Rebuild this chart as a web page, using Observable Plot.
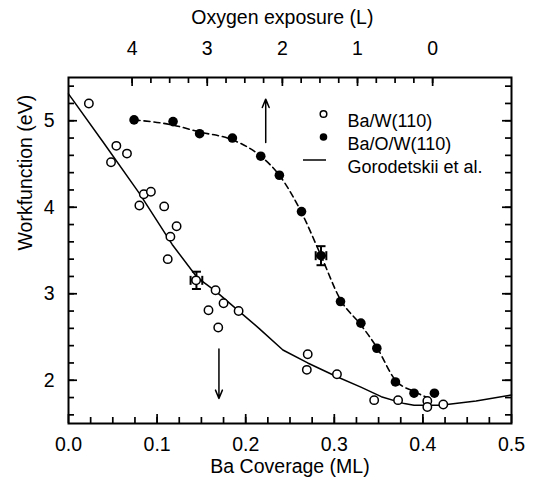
<!DOCTYPE html>
<html>
<head>
<meta charset="utf-8">
<script src="https://cdn.jsdelivr.net/npm/d3@7"></script>
<script src="https://cdn.jsdelivr.net/npm/@observablehq/plot@0.6"></script>
<style>
  html, body { margin: 0; padding: 0; background: white; }
  #chart svg { display: block; }
</style>
</head>
<body>
<div id="chart"></div>
<script>
// ---- data ----
const coverageTicks = [0, 0.1, 0.2, 0.3, 0.4, 0.5];
const workTicks = [2, 3, 4, 5];
const exposureTicks = [4, 3, 2, 1, 0];

// Ba/W(110) – open circles
const openX = [0.023, 0.048, 0.054, 0.066, 0.080, 0.085, 0.093, 0.108, 0.112, 0.115, 0.122, 0.144, 0.158, 0.166, 0.169, 0.175, 0.192, 0.269, 0.270, 0.303, 0.345, 0.372, 0.405, 0.405, 0.423];
const openY = [5.20, 4.52, 4.71, 4.62, 4.02, 4.15, 4.18, 4.01, 3.40, 3.66, 3.78, 3.155, 2.81, 3.04, 2.61, 2.89, 2.80, 2.12, 2.30, 2.07, 1.77, 1.77, 1.76, 1.69, 1.72];

// Ba/O/W(110) – filled circles
const filledX = [0.074, 0.118, 0.148, 0.185, 0.217, 0.238, 0.263, 0.285, 0.307, 0.330, 0.348, 0.369, 0.390, 0.413];
const filledY = [5.01, 4.99, 4.85, 4.80, 4.59, 4.37, 3.95, 3.44, 2.91, 2.66, 2.37, 1.98, 1.85, 1.85];

// Gorodetskii et al. – solid line
const goroX = [0, 0.04, 0.08, 0.117, 0.145, 0.166, 0.19, 0.215, 0.242, 0.27, 0.303, 0.33, 0.353, 0.379, 0.39, 0.42, 0.46, 0.5];
const goroY = [5.31, 4.74, 4.16, 3.57, 3.19, 3.03, 2.82, 2.60, 2.35, 2.20, 2.04, 1.92, 1.81, 1.73, 1.71, 1.71, 1.76, 1.83];

// dashed guide through the Ba/O/W points
const dashX = [0.074, 0.118, 0.148, 0.185, 0.217, 0.238, 0.262, 0.285, 0.307, 0.330, 0.348, 0.369, 0.390, 0.405];
const dashY = [5.01, 4.95, 4.87, 4.78, 4.59, 4.37, 3.96, 3.44, 2.93, 2.64, 2.38, 2.00, 1.87, 1.80];

// error bars
const errX = [0.1444, 0.285];
const errY = [3.155, 3.44];
const errDY = [0.10, 0.11];
const errDX = [0.0066, 0.006];

// arrows
const arrowX = [0.2226, 0.1698];
const arrowFrom = [4.75, 2.36];
const arrowTo = [5.25, 1.79];

// top axis: oxygen exposure vs coverage
const exposureZeroCoverage = 0.411;
const coveragePerL = 0.0848;

const legendLabels = ["Ba/W(110)", "Ba/O/W(110)", "Gorodetskii et al."];

// ---- helpers ----
const W = 536, H = 487, ML = 68, MR = 25, MT = 77, MB = 64;
const frameW = W - ML - MR, frameH = H - MT - MB;

const toCov = L => exposureZeroCoverage - coveragePerL * L;
const seg = (dx, dy) => ({ draw(ctx) { ctx.moveTo(-dx, -dy); ctx.lineTo(dx, dy); } });
const capH = seg(4.5, 0), capV = seg(0, 4.5), legendLine = seg(11.5, 0);

const xMinor = d3.range(0.025, 0.49, 0.025);
const yMinor = d3.range(1.6, 5.41, 0.2);
const expMinor = d3.range(0, 4.01, 0.25);

const errLo = errY.map((v, i) => v - errDY[i]);
const errHi = errY.map((v, i) => v + errDY[i]);
const errL = errX.map((v, i) => v - errDX[i]);
const errR = errX.map((v, i) => v + errDX[i]);

const font = "'Liberation Sans', Arial, Helvetica, sans-serif";
const tw = 1.7;
const tc = "black";

// inward tick marks
const ticksBottom = (vals, len) => Plot.tickX(vals, {x: vals, insetTop: frameH - len, stroke: tc, strokeWidth: tw});
const ticksTop = (vals, len) => Plot.tickX(vals, {x: vals, insetBottom: frameH - len, stroke: tc, strokeWidth: tw});
const ticksLeft = (vals, len) => Plot.tickY(vals, {y: vals, insetRight: frameW - len, stroke: tc, strokeWidth: tw});
const ticksRight = (vals, len) => Plot.tickY(vals, {y: vals, insetLeft: frameW - len, stroke: tc, strokeWidth: tw});

const marks = [
  Plot.line(goroX, {x: goroX, y: goroY, stroke: "black", strokeWidth: 1.5}),
  Plot.line(dashX, {x: dashX, y: dashY, stroke: "black", strokeWidth: 1.6, strokeDasharray: "6,4", curve: "monotone-x"}),
  Plot.arrow(arrowX, {x: arrowX, y1: arrowFrom, y2: arrowTo, stroke: "black", strokeWidth: 1.5, headLength: 9, headAngle: 45}),
  Plot.link(errX, {x: errX, y1: errLo, y2: errHi, stroke: "black", strokeWidth: 2}),
  Plot.link(errX, {y: errY, x1: errL, x2: errR, stroke: "black", strokeWidth: 2}),
  Plot.dot(errX, {x: errX, y: errLo, symbol: capH, r: 4.5, stroke: "black", fill: "none", strokeWidth: 2}),
  Plot.dot(errX, {x: errX, y: errHi, symbol: capH, r: 4.5, stroke: "black", fill: "none", strokeWidth: 2}),
  Plot.dot(errX, {x: errL, y: errY, symbol: capV, r: 4.5, stroke: "black", fill: "none", strokeWidth: 2}),
  Plot.dot(errX, {x: errR, y: errY, symbol: capV, r: 4.5, stroke: "black", fill: "none", strokeWidth: 2}),
  Plot.dot(openX, {x: openX, y: openY, r: 4.2, stroke: "black", strokeWidth: 1.5, fill: "white"}),
  Plot.dot(filledX, {x: filledX, y: filledY, r: 4.8, fill: "black", stroke: "none"}),

  ticksBottom(xMinor, 6),
  ticksBottom(coverageTicks, 9),
  Plot.axisX(coverageTicks, {anchor: "bottom", tickSize: 0, tickPadding: 14, tickFormat: d3.format(".1f"), label: null}),
  ticksTop(expMinor.map(toCov), 6),
  ticksTop(exposureTicks.map(toCov), 9),
  Plot.axisX(exposureTicks.map(toCov), {anchor: "top", tickSize: 0, tickPadding: 23, label: null,
    tickFormat: c => String(Math.round((exposureZeroCoverage - c) / coveragePerL))}),
  ticksLeft(yMinor, 6),
  ticksLeft(workTicks, 9),
  Plot.axisY(workTicks, {anchor: "left", tickSize: 0, tickPadding: 14, tickFormat: d => String(d), label: null}),
  ticksRight(yMinor, 6),
  ticksRight(workTicks, 9),

  Plot.text(["Ba Coverage (ML)"], {frameAnchor: "bottom", dy: 49, fontSize: 19.5, fill: "black"}),
  Plot.text(["Workfunction (eV)"], {frameAnchor: "left", dx: -43, rotate: -90, fontSize: 19.5, fill: "black"}),
  Plot.text(["Oxygen exposure (L)"], {x: [toCov(2)], frameAnchor: "top", dy: -67, fontSize: 19.5, fill: "black"}),

  Plot.dot([0], {frameAnchor: "top-right", dx: -188, dy: 36.5, r: 3.3, stroke: "black", strokeWidth: 1.5, fill: "white"}),
  Plot.dot([0], {frameAnchor: "top-right", dx: -188, dy: 59.5, r: 3.8, fill: "black"}),
  Plot.dot([0], {frameAnchor: "top-right", dx: -197, dy: 82.5, symbol: legendLine, r: 5, stroke: "black", fill: "none", strokeWidth: 1.5}),
  ...legendLabels.map((t, i) => Plot.text([t], {frameAnchor: "top-right", dx: -164, dy: 36.5 + 23 * i, textAnchor: "start", fontSize: 18, fill: "black"})),

  Plot.frame({stroke: "black", strokeWidth: 2})
];

const chart = Plot.plot({
  width: W, height: H, marginLeft: ML, marginRight: MR, marginTop: MT, marginBottom: MB,
  style: {fontFamily: font, fontSize: "19.5px", color: "black", background: "white"},
  x: {domain: [0, 0.5], label: null},
  y: {domain: [1.5, 5.5], label: null},
  marks
});
document.getElementById("chart").appendChild(chart);
</script>
</body>
</html>
